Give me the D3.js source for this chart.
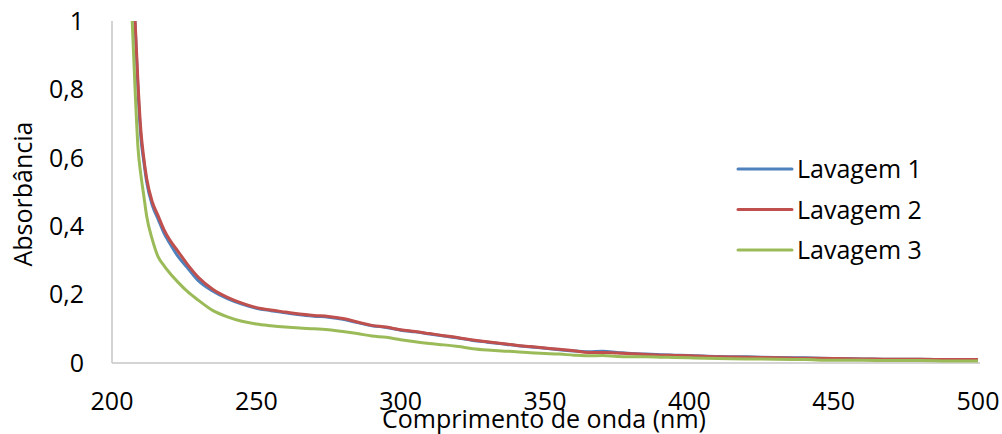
<!DOCTYPE html>
<html>
<head>
<meta charset="utf-8">
<script src="https://cdn.jsdelivr.net/npm/d3@7"></script>
<style>
  body { margin: 0; background: #fff; }
  text { font-family: "Open Sans", sans-serif; fill: #000; }
</style>
</head>
<body>
<script>
let width = 1002;
let height = 434;

// comprimento de onda (nm)
let wavelength = [206, 207, 208, 209, 210, 211, 212, 214, 216, 218, 220, 223, 226, 230, 235, 240, 245, 250,
  255, 260, 265, 270, 275, 280, 285, 290, 295, 300, 305, 310, 315, 320, 325, 330, 335, 340, 345, 350,
  355, 360, 365, 370, 375, 380, 385, 390, 395, 400, 410, 420, 430, 440, 450, 460, 470, 480, 490, 500];

let lavagem1 = [1.3, 1.15, 0.99, 0.8, 0.66, 0.59, 0.53, 0.46, 0.42, 0.38, 0.35, 0.31, 0.28, 0.24, 0.21, 0.188, 0.172, 0.16,
  0.153, 0.147, 0.141, 0.137, 0.134, 0.128, 0.118, 0.109, 0.104, 0.096, 0.091, 0.085, 0.079, 0.073, 0.066, 0.061, 0.056, 0.051, 0.047, 0.043,
  0.039, 0.035, 0.033, 0.034, 0.031, 0.028, 0.026, 0.024, 0.023, 0.022, 0.019, 0.018, 0.016, 0.015, 0.013, 0.012, 0.011, 0.011, 0.01, 0.01];

let lavagem2 = [1.3, 1.15, 1.0, 0.82, 0.68, 0.6, 0.54, 0.47, 0.43, 0.39, 0.36, 0.325, 0.29, 0.25, 0.215, 0.192, 0.175, 0.162,
  0.155, 0.149, 0.143, 0.139, 0.136, 0.13, 0.12, 0.11, 0.105, 0.097, 0.092, 0.086, 0.08, 0.074, 0.067, 0.062, 0.057, 0.052, 0.048, 0.044,
  0.04, 0.036, 0.031, 0.031, 0.029, 0.027, 0.025, 0.023, 0.022, 0.021, 0.018, 0.017, 0.015, 0.014, 0.013, 0.012, 0.011, 0.011, 0.01, 0.01];

let lavagem3 = [1.2, 1.0, 0.8, 0.63, 0.55, 0.49, 0.43, 0.36, 0.31, 0.285, 0.263, 0.235, 0.21, 0.183, 0.153, 0.135, 0.122, 0.114,
  0.109, 0.105, 0.102, 0.1, 0.097, 0.092, 0.086, 0.079, 0.075, 0.068, 0.062, 0.057, 0.053, 0.048, 0.042, 0.038, 0.035, 0.033, 0.03, 0.028,
  0.026, 0.023, 0.021, 0.022, 0.019, 0.018, 0.018, 0.017, 0.016, 0.015, 0.013, 0.012, 0.011, 0.01, 0.008, 0.008, 0.007, 0.007, 0.006, 0.006];

let seriesNames = ["Lavagem 1", "Lavagem 2", "Lavagem 3"];
let seriesColors = ["#4f81bd", "#c0504d", "#9bbb59"];
let seriesValues = [lavagem1, lavagem2, lavagem3];

let xTicks = [200, 250, 300, 350, 400, 450, 500];
let yTicks = [0, 0.2, 0.4, 0.6, 0.8, 1];

let svg = d3.select("body").append("svg").attr("width", width).attr("height", height);

let x = d3.scaleLinear().domain([200, 500]).range([112, 978]);
let y = d3.scaleLinear().domain([0, 1]).range([363, 21]);

// eixos
svg.append("line")
  .attr("x1", x(200)).attr("x2", x(200))
  .attr("y1", y(1)).attr("y2", y(0))
  .attr("stroke", "#c6c6c6").attr("stroke-width", 1.5);
svg.append("line")
  .attr("x1", x(200)).attr("x2", x(500) + 2)
  .attr("y1", y(0)).attr("y2", y(0))
  .attr("stroke", "#c6c6c6").attr("stroke-width", 1.5);

let fmt = d => d3.format(".1~f")(d).replace(".", ",");

svg.append("g").selectAll("text")
  .data(yTicks)
  .enter()
  .append("text")
  .attr("x", 84)
  .attr("y", d => y(d))
  .attr("dy", "0.35em")
  .attr("text-anchor", "end")
  .style("font-size", "25px")
  .text(fmt);

svg.append("g").selectAll("text")
  .data(xTicks)
  .enter()
  .append("text")
  .attr("x", d => x(d))
  .attr("y", 410)
  .attr("text-anchor", "middle")
  .style("font-size", "25px")
  .text(d => d);

svg.append("text")
  .attr("x", 544)
  .attr("y", 428)
  .attr("text-anchor", "middle")
  .style("font-size", "25px")
  .text("Comprimento de onda (nm)");

svg.append("text")
  .attr("transform", "translate(32,194) rotate(-90)")
  .attr("text-anchor", "middle")
  .style("font-size", "25px")
  .text("Absorbância");

// linhas
svg.append("clipPath").attr("id", "plot")
  .append("rect")
  .attr("x", x(200)).attr("y", y(1))
  .attr("width", x(500) - x(200) + 10).attr("height", y(0) - y(1));

let line = d3.line()
  .x((d, i) => x(wavelength[i]))
  .y(d => y(d))
  .curve(d3.curveMonotoneX);

svg.append("g").attr("clip-path", "url(#plot)")
  .selectAll("path")
  .data(seriesValues)
  .enter()
  .append("path")
  .attr("fill", "none")
  .attr("stroke", (d, i) => seriesColors[i])
  .attr("stroke-width", 3)
  .attr("stroke-linejoin", "round")
  .attr("d", line);

// legenda
let legend = svg.append("g").selectAll("g")
  .data(seriesNames)
  .enter()
  .append("g")
  .attr("transform", (d, i) => "translate(738," + (169 + i * 40.5) + ")");

legend.append("line")
  .attr("x1", 0).attr("x2", 54)
  .attr("stroke", (d, i) => seriesColors[i])
  .attr("stroke-width", 3)
  .attr("stroke-linecap", "round");

legend.append("text")
  .attr("x", 59)
  .attr("dy", "0.36em")
  .style("font-size", "25px")
  .text(d => d);
</script>
</body>
</html>
